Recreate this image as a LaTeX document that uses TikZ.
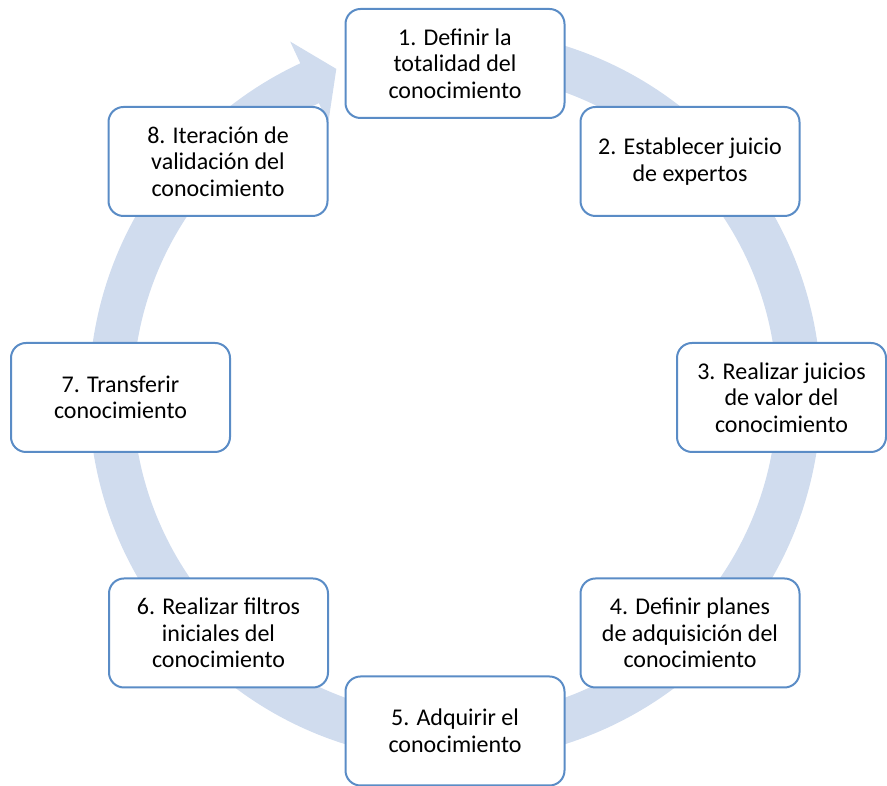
\documentclass[tikz,border=0pt]{standalone}
\usepackage{fontspec}
\setmainfont{Carlito}
\usepackage{tikz}
\usetikzlibrary{arrows, positioning}

\definecolor{anillo}{HTML}{D0DCEE}
\definecolor{borde}{HTML}{5A8CC6}

\begin{document}
\begin{tikzpicture}[x=1pt, y=1pt]
    \tikzstyle{etapa}=[shape=rectangle, rounded corners=15pt, fill=white, draw=borde, line width=2pt, text=black, align=center, minimum width=219pt, minimum height=109pt, font=\fontsize{24}{26.5}\selectfont]
    \tikzstyle{etapa3}=[etapa, minimum width=209pt]

    \useasboundingbox (0,0) rectangle (887,786);

    % anillo con flecha
    \begin{scope}[shift={(455,391)}]
        \fill[anillo] (80:366pt) arc[start angle=80, end angle=-245, radius=366pt]
            -- (-245:390pt) -- (-250:347pt) -- (-245:300pt) -- (-245:322pt)
            arc[start angle=-245, end angle=80, radius=322pt] -- cycle;
    \end{scope}

    \node[etapa]    (s1) at (455, 722.5)   {1. Definir la\\totalidad del\\conocimiento};
    \node[etapa]    (s2) at (690, 624.5)   {2. Establecer juicio\\de expertos};
    \node[etapa3]   (s3) at (781.5, 388.5) {3. Realizar juicios\\de valor del\\conocimiento};
    \node[etapa]    (s4) at (690, 153)     {4. Definir planes\\de adquisición del\\conocimiento};
    \node[etapa]    (s5) at (455, 55)      {5. Adquirir el\\conocimiento};
    \node[etapa]    (s6) at (218.5, 153)   {6. Realizar filtros\\iniciales del\\conocimiento};
    \node[etapa]    (s7) at (120.5, 388.5) {7. Transferir\\conocimiento};
    \node[etapa]    (s8) at (218, 624.5)   {8. Iteración de\\validación del\\conocimiento};

\end{tikzpicture}
\end{document}
